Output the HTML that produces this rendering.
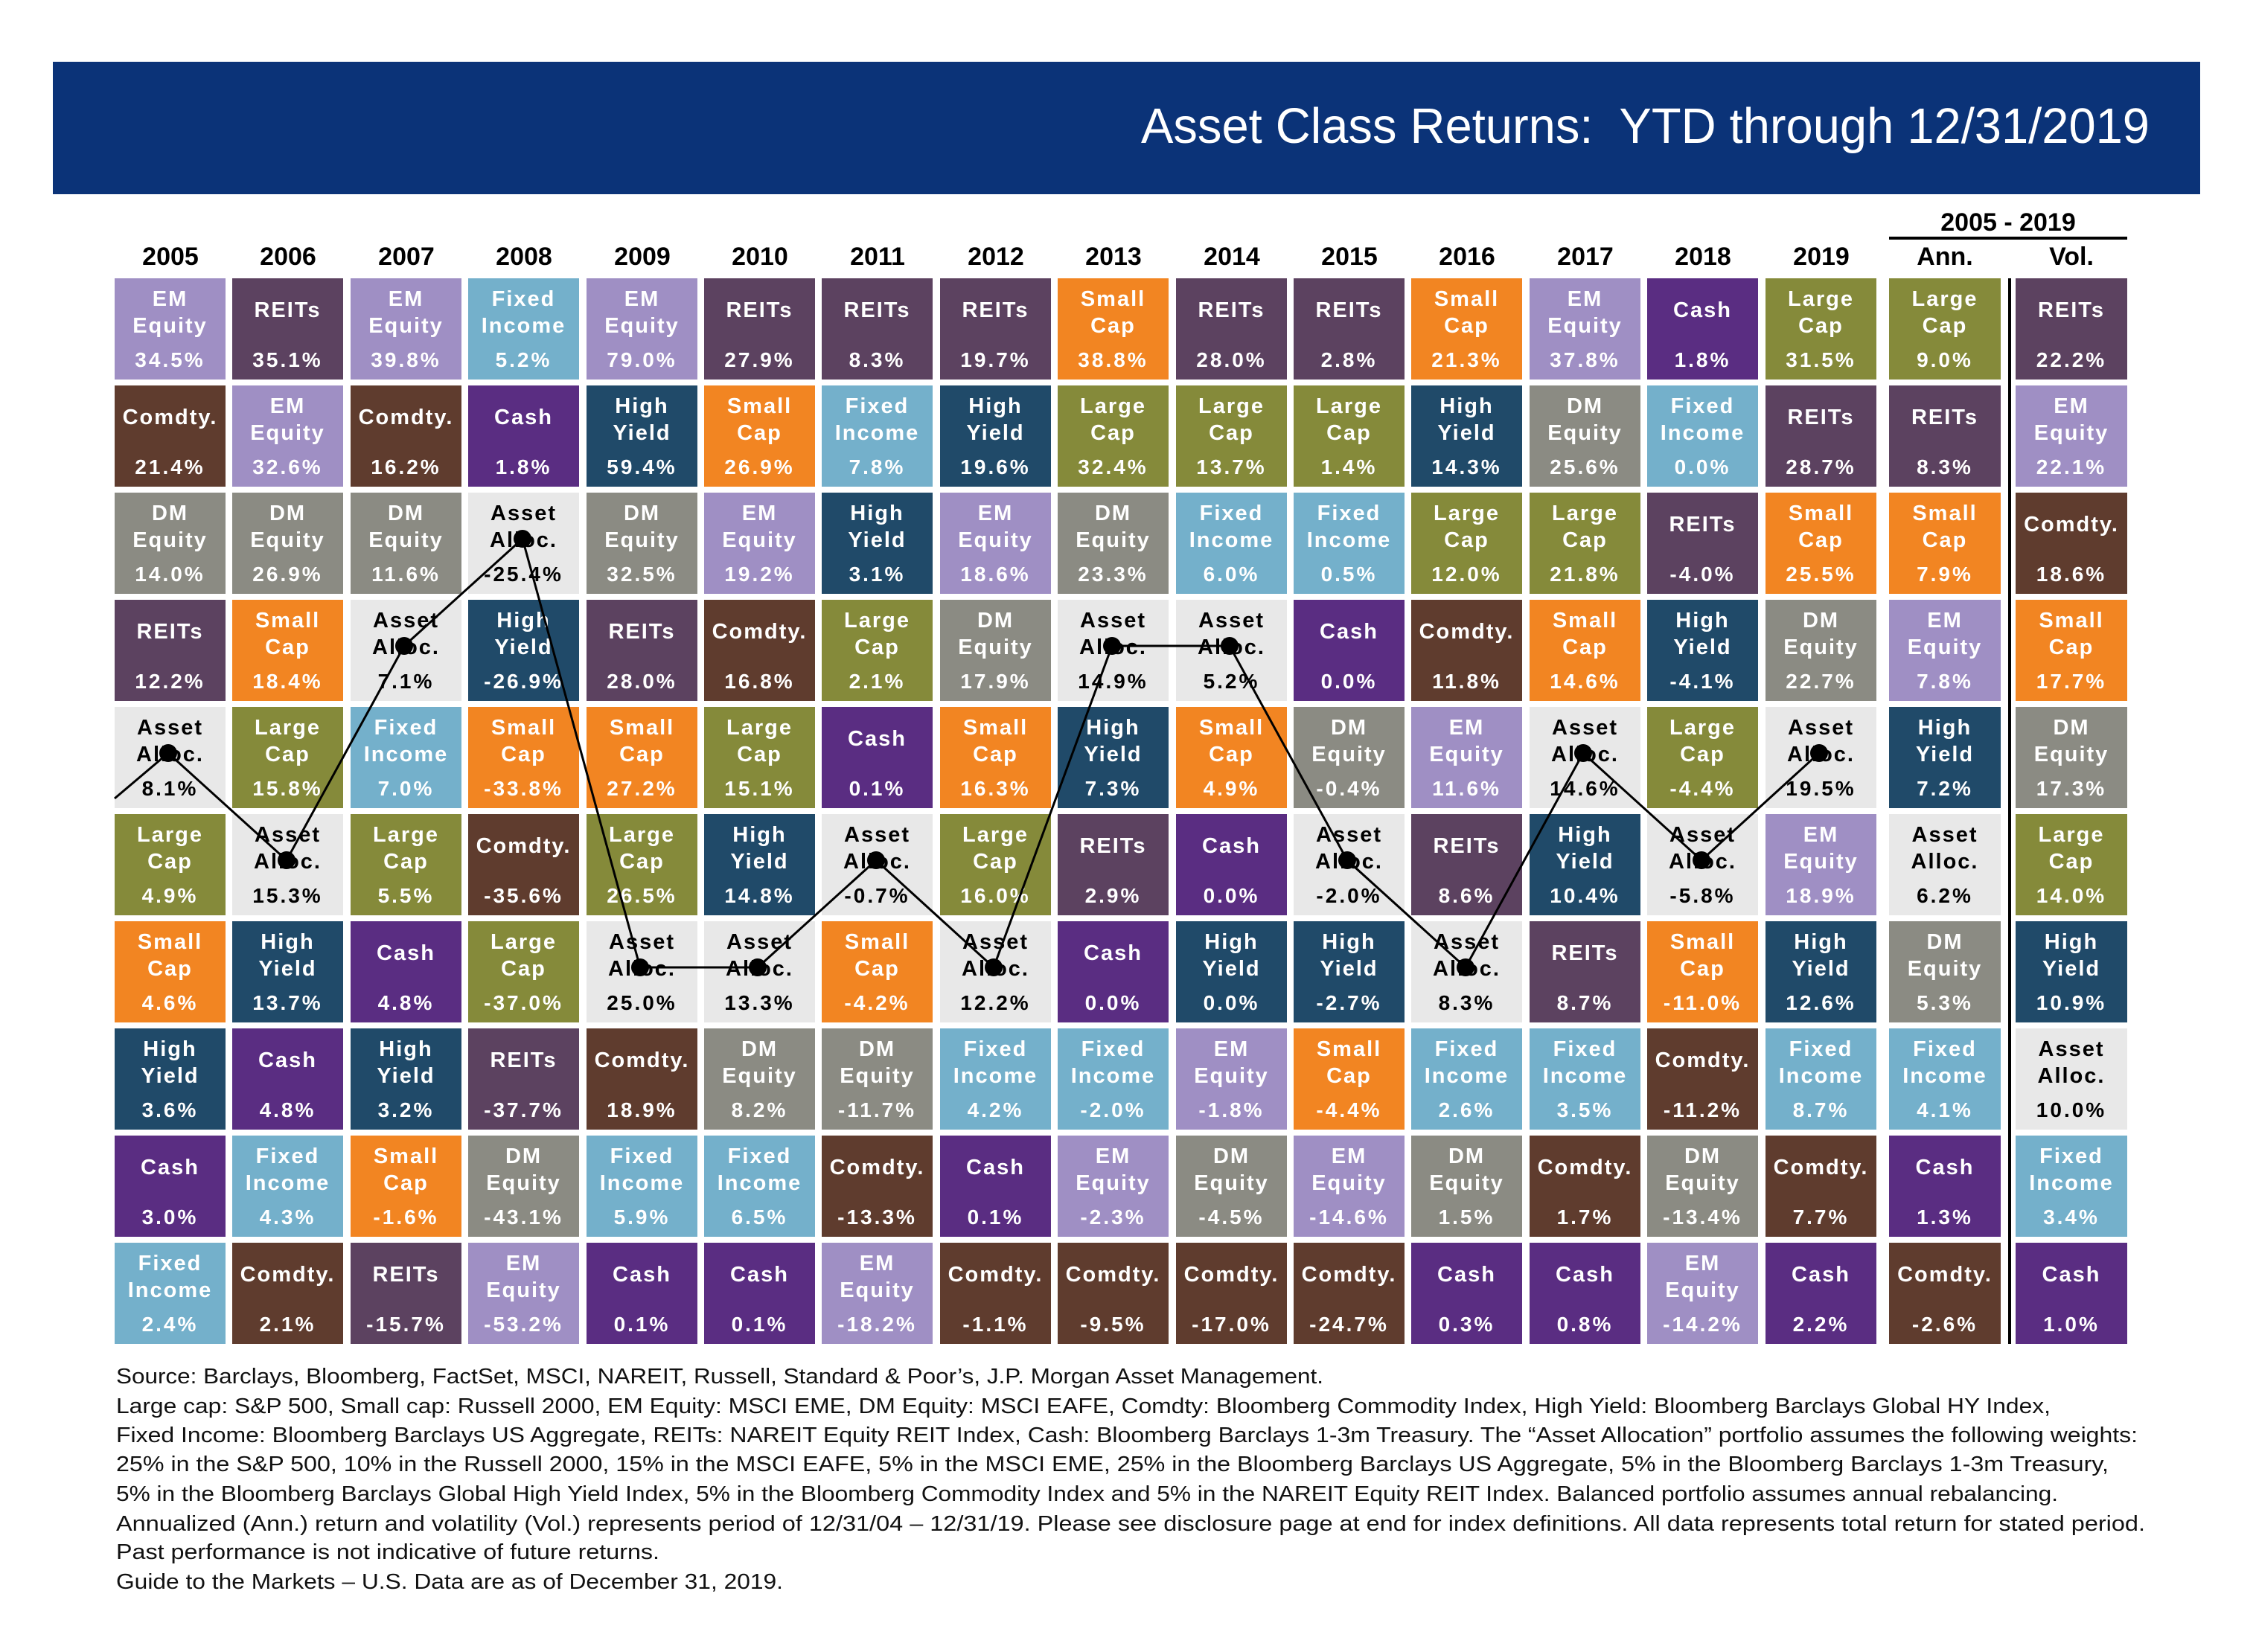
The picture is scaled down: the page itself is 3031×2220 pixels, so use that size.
<!DOCTYPE html>
<html><head><meta charset="utf-8">
<style>
html,body{margin:0;padding:0;background:#fff;}
body{width:3031px;height:2220px;position:relative;overflow:hidden;font-family:"Liberation Sans",Arial,sans-serif;}
#banner{position:absolute;left:71px;top:83px;width:2885px;height:178px;background:#0b3378;}
.yr{position:absolute;top:326px;width:150px;text-align:center;font-weight:bold;font-size:34px;color:#000;}
.col{position:absolute;top:374px;width:149px;}
.c{position:relative;height:136px;margin-bottom:8px;color:#fff;font-weight:bold;text-align:center;}
.c b{position:absolute;left:0;right:0;top:10px;line-height:36px;font-size:29px;letter-spacing:2px;}
.c b.s{top:25px;}
.c i{position:absolute;left:0;right:0;top:92px;line-height:36px;font-size:28px;font-style:normal;letter-spacing:3px;}
.em{background:#9f8fc4}.re{background:#5c4260}.fi{background:#74b0cb}.co{background:#5f3c2e}
.ca{background:#5a2d82}.hy{background:#204a69}.sc{background:#f28522}.lc{background:#858a3a}
.dm{background:#8b8b83}.aa{background:#e8e8e8;color:#000}
</style></head><body>
<div id="banner"></div>
<svg style="position:absolute;left:0;top:0" width="3031" height="270">
<text x="1533" y="192" font-family="Liberation Sans, Arial, sans-serif" font-size="67" fill="#fff" textLength="1355" lengthAdjust="spacingAndGlyphs">Asset Class Returns:&#160; YTD through 12/31/2019</text>
</svg>

<div class="yr" style="left:154px">2005</div>
<div class="yr" style="left:312px">2006</div>
<div class="yr" style="left:471px">2007</div>
<div class="yr" style="left:629px">2008</div>
<div class="yr" style="left:788px">2009</div>
<div class="yr" style="left:946px">2010</div>
<div class="yr" style="left:1104px">2011</div>
<div class="yr" style="left:1263px">2012</div>
<div class="yr" style="left:1421px">2013</div>
<div class="yr" style="left:1580px">2014</div>
<div class="yr" style="left:1738px">2015</div>
<div class="yr" style="left:1896px">2016</div>
<div class="yr" style="left:2055px">2017</div>
<div class="yr" style="left:2213px">2018</div>
<div class="yr" style="left:2372px">2019</div>
<div class="yr" style="left:2538px;top:280px;width:320px">2005 - 2019</div>
<div style="position:absolute;left:2538px;top:318px;width:320px;height:4px;background:#000"></div>
<div class="yr" style="left:2538px">Ann.</div>
<div class="yr" style="left:2708px">Vol.</div>
<div style="position:absolute;left:2698px;top:374px;width:4px;height:1432px;background:#000"></div>

<div class="col" style="left:154px">
<div class="c em"><b>EM<br>Equity</b><i>34.5%</i></div>
<div class="c co"><b class="s">Comdty.</b><i>21.4%</i></div>
<div class="c dm"><b>DM<br>Equity</b><i>14.0%</i></div>
<div class="c re"><b class="s">REITs</b><i>12.2%</i></div>
<div class="c aa"><b>Asset<br>Alloc.</b><i>8.1%</i></div>
<div class="c lc"><b>Large<br>Cap</b><i>4.9%</i></div>
<div class="c sc"><b>Small<br>Cap</b><i>4.6%</i></div>
<div class="c hy"><b>High<br>Yield</b><i>3.6%</i></div>
<div class="c ca"><b class="s">Cash</b><i>3.0%</i></div>
<div class="c fi"><b>Fixed<br>Income</b><i>2.4%</i></div>
</div>
<div class="col" style="left:312px">
<div class="c re"><b class="s">REITs</b><i>35.1%</i></div>
<div class="c em"><b>EM<br>Equity</b><i>32.6%</i></div>
<div class="c dm"><b>DM<br>Equity</b><i>26.9%</i></div>
<div class="c sc"><b>Small<br>Cap</b><i>18.4%</i></div>
<div class="c lc"><b>Large<br>Cap</b><i>15.8%</i></div>
<div class="c aa"><b>Asset<br>Alloc.</b><i>15.3%</i></div>
<div class="c hy"><b>High<br>Yield</b><i>13.7%</i></div>
<div class="c ca"><b class="s">Cash</b><i>4.8%</i></div>
<div class="c fi"><b>Fixed<br>Income</b><i>4.3%</i></div>
<div class="c co"><b class="s">Comdty.</b><i>2.1%</i></div>
</div>
<div class="col" style="left:471px">
<div class="c em"><b>EM<br>Equity</b><i>39.8%</i></div>
<div class="c co"><b class="s">Comdty.</b><i>16.2%</i></div>
<div class="c dm"><b>DM<br>Equity</b><i>11.6%</i></div>
<div class="c aa"><b>Asset<br>Alloc.</b><i>7.1%</i></div>
<div class="c fi"><b>Fixed<br>Income</b><i>7.0%</i></div>
<div class="c lc"><b>Large<br>Cap</b><i>5.5%</i></div>
<div class="c ca"><b class="s">Cash</b><i>4.8%</i></div>
<div class="c hy"><b>High<br>Yield</b><i>3.2%</i></div>
<div class="c sc"><b>Small<br>Cap</b><i>-1.6%</i></div>
<div class="c re"><b class="s">REITs</b><i>-15.7%</i></div>
</div>
<div class="col" style="left:629px">
<div class="c fi"><b>Fixed<br>Income</b><i>5.2%</i></div>
<div class="c ca"><b class="s">Cash</b><i>1.8%</i></div>
<div class="c aa"><b>Asset<br>Alloc.</b><i>-25.4%</i></div>
<div class="c hy"><b>High<br>Yield</b><i>-26.9%</i></div>
<div class="c sc"><b>Small<br>Cap</b><i>-33.8%</i></div>
<div class="c co"><b class="s">Comdty.</b><i>-35.6%</i></div>
<div class="c lc"><b>Large<br>Cap</b><i>-37.0%</i></div>
<div class="c re"><b class="s">REITs</b><i>-37.7%</i></div>
<div class="c dm"><b>DM<br>Equity</b><i>-43.1%</i></div>
<div class="c em"><b>EM<br>Equity</b><i>-53.2%</i></div>
</div>
<div class="col" style="left:788px">
<div class="c em"><b>EM<br>Equity</b><i>79.0%</i></div>
<div class="c hy"><b>High<br>Yield</b><i>59.4%</i></div>
<div class="c dm"><b>DM<br>Equity</b><i>32.5%</i></div>
<div class="c re"><b class="s">REITs</b><i>28.0%</i></div>
<div class="c sc"><b>Small<br>Cap</b><i>27.2%</i></div>
<div class="c lc"><b>Large<br>Cap</b><i>26.5%</i></div>
<div class="c aa"><b>Asset<br>Alloc.</b><i>25.0%</i></div>
<div class="c co"><b class="s">Comdty.</b><i>18.9%</i></div>
<div class="c fi"><b>Fixed<br>Income</b><i>5.9%</i></div>
<div class="c ca"><b class="s">Cash</b><i>0.1%</i></div>
</div>
<div class="col" style="left:946px">
<div class="c re"><b class="s">REITs</b><i>27.9%</i></div>
<div class="c sc"><b>Small<br>Cap</b><i>26.9%</i></div>
<div class="c em"><b>EM<br>Equity</b><i>19.2%</i></div>
<div class="c co"><b class="s">Comdty.</b><i>16.8%</i></div>
<div class="c lc"><b>Large<br>Cap</b><i>15.1%</i></div>
<div class="c hy"><b>High<br>Yield</b><i>14.8%</i></div>
<div class="c aa"><b>Asset<br>Alloc.</b><i>13.3%</i></div>
<div class="c dm"><b>DM<br>Equity</b><i>8.2%</i></div>
<div class="c fi"><b>Fixed<br>Income</b><i>6.5%</i></div>
<div class="c ca"><b class="s">Cash</b><i>0.1%</i></div>
</div>
<div class="col" style="left:1104px">
<div class="c re"><b class="s">REITs</b><i>8.3%</i></div>
<div class="c fi"><b>Fixed<br>Income</b><i>7.8%</i></div>
<div class="c hy"><b>High<br>Yield</b><i>3.1%</i></div>
<div class="c lc"><b>Large<br>Cap</b><i>2.1%</i></div>
<div class="c ca"><b class="s">Cash</b><i>0.1%</i></div>
<div class="c aa"><b>Asset<br>Alloc.</b><i>-0.7%</i></div>
<div class="c sc"><b>Small<br>Cap</b><i>-4.2%</i></div>
<div class="c dm"><b>DM<br>Equity</b><i>-11.7%</i></div>
<div class="c co"><b class="s">Comdty.</b><i>-13.3%</i></div>
<div class="c em"><b>EM<br>Equity</b><i>-18.2%</i></div>
</div>
<div class="col" style="left:1263px">
<div class="c re"><b class="s">REITs</b><i>19.7%</i></div>
<div class="c hy"><b>High<br>Yield</b><i>19.6%</i></div>
<div class="c em"><b>EM<br>Equity</b><i>18.6%</i></div>
<div class="c dm"><b>DM<br>Equity</b><i>17.9%</i></div>
<div class="c sc"><b>Small<br>Cap</b><i>16.3%</i></div>
<div class="c lc"><b>Large<br>Cap</b><i>16.0%</i></div>
<div class="c aa"><b>Asset<br>Alloc.</b><i>12.2%</i></div>
<div class="c fi"><b>Fixed<br>Income</b><i>4.2%</i></div>
<div class="c ca"><b class="s">Cash</b><i>0.1%</i></div>
<div class="c co"><b class="s">Comdty.</b><i>-1.1%</i></div>
</div>
<div class="col" style="left:1421px">
<div class="c sc"><b>Small<br>Cap</b><i>38.8%</i></div>
<div class="c lc"><b>Large<br>Cap</b><i>32.4%</i></div>
<div class="c dm"><b>DM<br>Equity</b><i>23.3%</i></div>
<div class="c aa"><b>Asset<br>Alloc.</b><i>14.9%</i></div>
<div class="c hy"><b>High<br>Yield</b><i>7.3%</i></div>
<div class="c re"><b class="s">REITs</b><i>2.9%</i></div>
<div class="c ca"><b class="s">Cash</b><i>0.0%</i></div>
<div class="c fi"><b>Fixed<br>Income</b><i>-2.0%</i></div>
<div class="c em"><b>EM<br>Equity</b><i>-2.3%</i></div>
<div class="c co"><b class="s">Comdty.</b><i>-9.5%</i></div>
</div>
<div class="col" style="left:1580px">
<div class="c re"><b class="s">REITs</b><i>28.0%</i></div>
<div class="c lc"><b>Large<br>Cap</b><i>13.7%</i></div>
<div class="c fi"><b>Fixed<br>Income</b><i>6.0%</i></div>
<div class="c aa"><b>Asset<br>Alloc.</b><i>5.2%</i></div>
<div class="c sc"><b>Small<br>Cap</b><i>4.9%</i></div>
<div class="c ca"><b class="s">Cash</b><i>0.0%</i></div>
<div class="c hy"><b>High<br>Yield</b><i>0.0%</i></div>
<div class="c em"><b>EM<br>Equity</b><i>-1.8%</i></div>
<div class="c dm"><b>DM<br>Equity</b><i>-4.5%</i></div>
<div class="c co"><b class="s">Comdty.</b><i>-17.0%</i></div>
</div>
<div class="col" style="left:1738px">
<div class="c re"><b class="s">REITs</b><i>2.8%</i></div>
<div class="c lc"><b>Large<br>Cap</b><i>1.4%</i></div>
<div class="c fi"><b>Fixed<br>Income</b><i>0.5%</i></div>
<div class="c ca"><b class="s">Cash</b><i>0.0%</i></div>
<div class="c dm"><b>DM<br>Equity</b><i>-0.4%</i></div>
<div class="c aa"><b>Asset<br>Alloc.</b><i>-2.0%</i></div>
<div class="c hy"><b>High<br>Yield</b><i>-2.7%</i></div>
<div class="c sc"><b>Small<br>Cap</b><i>-4.4%</i></div>
<div class="c em"><b>EM<br>Equity</b><i>-14.6%</i></div>
<div class="c co"><b class="s">Comdty.</b><i>-24.7%</i></div>
</div>
<div class="col" style="left:1896px">
<div class="c sc"><b>Small<br>Cap</b><i>21.3%</i></div>
<div class="c hy"><b>High<br>Yield</b><i>14.3%</i></div>
<div class="c lc"><b>Large<br>Cap</b><i>12.0%</i></div>
<div class="c co"><b class="s">Comdty.</b><i>11.8%</i></div>
<div class="c em"><b>EM<br>Equity</b><i>11.6%</i></div>
<div class="c re"><b class="s">REITs</b><i>8.6%</i></div>
<div class="c aa"><b>Asset<br>Alloc.</b><i>8.3%</i></div>
<div class="c fi"><b>Fixed<br>Income</b><i>2.6%</i></div>
<div class="c dm"><b>DM<br>Equity</b><i>1.5%</i></div>
<div class="c ca"><b class="s">Cash</b><i>0.3%</i></div>
</div>
<div class="col" style="left:2055px">
<div class="c em"><b>EM<br>Equity</b><i>37.8%</i></div>
<div class="c dm"><b>DM<br>Equity</b><i>25.6%</i></div>
<div class="c lc"><b>Large<br>Cap</b><i>21.8%</i></div>
<div class="c sc"><b>Small<br>Cap</b><i>14.6%</i></div>
<div class="c aa"><b>Asset<br>Alloc.</b><i>14.6%</i></div>
<div class="c hy"><b>High<br>Yield</b><i>10.4%</i></div>
<div class="c re"><b class="s">REITs</b><i>8.7%</i></div>
<div class="c fi"><b>Fixed<br>Income</b><i>3.5%</i></div>
<div class="c co"><b class="s">Comdty.</b><i>1.7%</i></div>
<div class="c ca"><b class="s">Cash</b><i>0.8%</i></div>
</div>
<div class="col" style="left:2213px">
<div class="c ca"><b class="s">Cash</b><i>1.8%</i></div>
<div class="c fi"><b>Fixed<br>Income</b><i>0.0%</i></div>
<div class="c re"><b class="s">REITs</b><i>-4.0%</i></div>
<div class="c hy"><b>High<br>Yield</b><i>-4.1%</i></div>
<div class="c lc"><b>Large<br>Cap</b><i>-4.4%</i></div>
<div class="c aa"><b>Asset<br>Alloc.</b><i>-5.8%</i></div>
<div class="c sc"><b>Small<br>Cap</b><i>-11.0%</i></div>
<div class="c co"><b class="s">Comdty.</b><i>-11.2%</i></div>
<div class="c dm"><b>DM<br>Equity</b><i>-13.4%</i></div>
<div class="c em"><b>EM<br>Equity</b><i>-14.2%</i></div>
</div>
<div class="col" style="left:2372px">
<div class="c lc"><b>Large<br>Cap</b><i>31.5%</i></div>
<div class="c re"><b class="s">REITs</b><i>28.7%</i></div>
<div class="c sc"><b>Small<br>Cap</b><i>25.5%</i></div>
<div class="c dm"><b>DM<br>Equity</b><i>22.7%</i></div>
<div class="c aa"><b>Asset<br>Alloc.</b><i>19.5%</i></div>
<div class="c em"><b>EM<br>Equity</b><i>18.9%</i></div>
<div class="c hy"><b>High<br>Yield</b><i>12.6%</i></div>
<div class="c fi"><b>Fixed<br>Income</b><i>8.7%</i></div>
<div class="c co"><b class="s">Comdty.</b><i>7.7%</i></div>
<div class="c ca"><b class="s">Cash</b><i>2.2%</i></div>
</div>
<div class="col" style="left:2538px;width:150px">
<div class="c lc"><b>Large<br>Cap</b><i>9.0%</i></div>
<div class="c re"><b class="s">REITs</b><i>8.3%</i></div>
<div class="c sc"><b>Small<br>Cap</b><i>7.9%</i></div>
<div class="c em"><b>EM<br>Equity</b><i>7.8%</i></div>
<div class="c hy"><b>High<br>Yield</b><i>7.2%</i></div>
<div class="c aa"><b>Asset<br>Alloc.</b><i>6.2%</i></div>
<div class="c dm"><b>DM<br>Equity</b><i>5.3%</i></div>
<div class="c fi"><b>Fixed<br>Income</b><i>4.1%</i></div>
<div class="c ca"><b class="s">Cash</b><i>1.3%</i></div>
<div class="c co"><b class="s">Comdty.</b><i>-2.6%</i></div>
</div>
<div class="col" style="left:2708px;width:150px">
<div class="c re"><b class="s">REITs</b><i>22.2%</i></div>
<div class="c em"><b>EM<br>Equity</b><i>22.1%</i></div>
<div class="c co"><b class="s">Comdty.</b><i>18.6%</i></div>
<div class="c sc"><b>Small<br>Cap</b><i>17.7%</i></div>
<div class="c dm"><b>DM<br>Equity</b><i>17.3%</i></div>
<div class="c lc"><b>Large<br>Cap</b><i>14.0%</i></div>
<div class="c hy"><b>High<br>Yield</b><i>10.9%</i></div>
<div class="c aa"><b>Asset<br>Alloc.</b><i>10.0%</i></div>
<div class="c fi"><b>Fixed<br>Income</b><i>3.4%</i></div>
<div class="c ca"><b class="s">Cash</b><i>1.0%</i></div>
</div>

<svg style="position:absolute;left:0;top:0" width="3031" height="2220">
<polyline fill="none" stroke="#000" stroke-width="3" points="154,1073 226,1012 385,1156 543,868 702,724 860,1300 1018,1300 1177,1156 1335,1300 1494,868 1652,868 1810,1156 1969,1300 2127,1012 2286,1156 2444,1012"/>
<g fill="#000">
<circle cx="226" cy="1012" r="12"/><circle cx="385" cy="1156" r="12"/><circle cx="543" cy="868" r="12"/>
<circle cx="702" cy="724" r="12"/><circle cx="860" cy="1300" r="12"/><circle cx="1018" cy="1300" r="12"/>
<circle cx="1177" cy="1156" r="12"/><circle cx="1335" cy="1300" r="12"/><circle cx="1494" cy="868" r="12"/>
<circle cx="1652" cy="868" r="12"/><circle cx="1810" cy="1156" r="12"/><circle cx="1969" cy="1300" r="12"/>
<circle cx="2127" cy="1012" r="12"/><circle cx="2286" cy="1156" r="12"/><circle cx="2444" cy="1012" r="12"/>
</g>
<g font-family="Liberation Sans, Arial, sans-serif" font-size="29" fill="#111">
<text x="156" y="1859" textLength="1622" lengthAdjust="spacingAndGlyphs">Source: Barclays, Bloomberg, FactSet, MSCI, NAREIT, Russell, Standard &amp; Poor’s, J.P. Morgan Asset Management.</text>
<text x="156" y="1899" textLength="2599" lengthAdjust="spacingAndGlyphs">Large cap: S&amp;P 500, Small cap: Russell 2000, EM Equity: MSCI EME, DM Equity: MSCI EAFE, Comdty: Bloomberg Commodity Index, High Yield: Bloomberg Barclays Global HY Index,</text>
<text x="156" y="1938" textLength="2716" lengthAdjust="spacingAndGlyphs">Fixed Income: Bloomberg Barclays US Aggregate, REITs: NAREIT Equity REIT Index, Cash: Bloomberg Barclays 1-3m Treasury. The “Asset Allocation” portfolio assumes the following weights:</text>
<text x="156" y="1977" textLength="2677" lengthAdjust="spacingAndGlyphs">25% in the S&amp;P 500, 10% in the Russell 2000, 15% in the MSCI EAFE, 5% in the MSCI EME, 25% in the Bloomberg Barclays US Aggregate, 5% in the Bloomberg Barclays 1-3m Treasury,</text>
<text x="156" y="2017" textLength="2609" lengthAdjust="spacingAndGlyphs">5% in the Bloomberg Barclays Global High Yield Index, 5% in the Bloomberg Commodity Index and 5% in the NAREIT Equity REIT Index. Balanced portfolio assumes annual rebalancing.</text>
<text x="156" y="2057" textLength="2726" lengthAdjust="spacingAndGlyphs">Annualized (Ann.) return and volatility (Vol.) represents period of 12/31/04 – 12/31/19. Please see disclosure page at end for index definitions. All data represents total return for stated period.</text>
<text x="156" y="2095" textLength="730" lengthAdjust="spacingAndGlyphs">Past performance is not indicative of future returns.</text>
<text x="156" y="2135" textLength="896" lengthAdjust="spacingAndGlyphs">Guide to the Markets – U.S. Data are as of December 31, 2019.</text>
</g>
</svg>
</body></html>
